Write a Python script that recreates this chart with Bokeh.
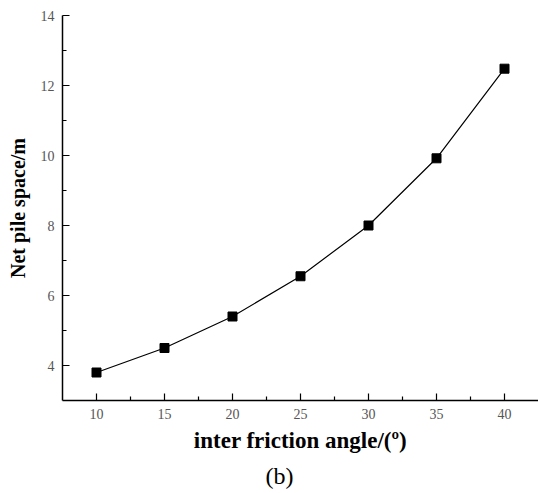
from bokeh.plotting import figure
from bokeh.models import FixedTicker, Range1d, Title
from bokeh.embed import file_html
from bokeh.resources import INLINE

# Data
friction_angle = [10, 15, 20, 25, 30, 35, 40]
net_pile_space = [3.8, 4.5, 5.4, 6.55, 8.0, 9.92, 12.48]
x_major_ticks = [10, 15, 20, 25, 30, 35, 40]
x_minor_ticks = [12.5, 17.5, 22.5, 27.5, 32.5, 37.5]
y_major_ticks = [4, 6, 8, 10, 12, 14]
y_minor_ticks = [5, 7, 9, 11, 13]

SERIF = "Liberation Serif"

p = figure(width=538, height=493, output_backend="svg", toolbar_location=None,
           x_range=Range1d(7.5, 42.5), y_range=Range1d(3, 14),
           min_border_left=62, min_border_right=0, min_border_top=15,
           min_border_bottom=60)
p.outline_line_color = None
p.xgrid.visible = False
p.ygrid.visible = False

p.line(friction_angle, net_pile_space, line_color="black", line_width=1.2)
p.scatter(friction_angle, net_pile_space, marker="square", size=9,
          fill_color="black", line_color="black")

for ax in (p.xaxis[0], p.yaxis[0]):
    ax.axis_line_width = 1.5
    ax.axis_line_color = "black"
    ax.major_tick_in = 7
    ax.major_tick_out = 0
    ax.minor_tick_in = 4
    ax.minor_tick_out = 0
    ax.major_tick_line_width = 1.2
    ax.minor_tick_line_width = 1.2
    ax.major_label_text_font = SERIF
    ax.major_label_text_font_size = "14px"
    ax.major_label_text_color = "#555555"
    ax.major_label_standoff = 8
    ax.axis_label_text_font = SERIF
    ax.axis_label_text_font_style = "bold"
    ax.axis_label_text_color = "black"

p.xaxis[0].ticker = FixedTicker(ticks=x_major_ticks, minor_ticks=x_minor_ticks)
p.yaxis[0].ticker = FixedTicker(ticks=y_major_ticks, minor_ticks=y_minor_ticks)
p.xaxis[0].axis_label = "inter friction angle/(º)"
p.yaxis[0].axis_label = "Net pile space/m"
p.xaxis[0].axis_label_text_font_size = "23px"
p.yaxis[0].axis_label_text_font_size = "20px"
p.xaxis[0].axis_label_standoff = 6
p.yaxis[0].axis_label_standoff = 9

sub = Title(text="(b)", align="left", offset=203, text_font=SERIF,
            text_font_size="24px", text_font_style="normal", text_color="black")
p.add_layout(sub, "below")

open("out.html", "w").write(file_html(p, INLINE))
